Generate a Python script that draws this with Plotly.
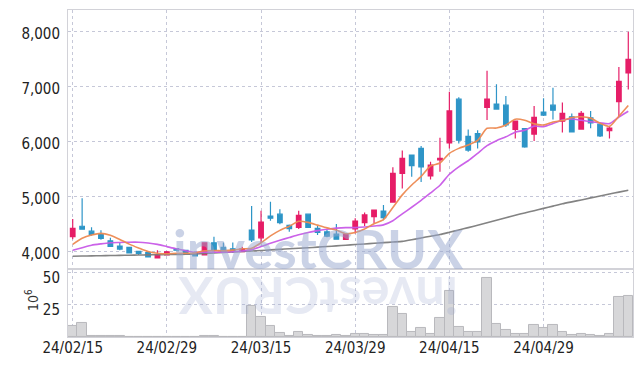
import plotly.graph_objects as go

dates = [
    '24/02/15', '24/02/16', '24/02/19', '24/02/20', '24/02/21', '24/02/22', '24/02/23', '24/02/26', '24/02/27', '24/02/28',
    '24/02/29', '24/03/04', '24/03/05', '24/03/06', '24/03/07', '24/03/08', '24/03/11', '24/03/12', '24/03/13', '24/03/14',
    '24/03/15', '24/03/18', '24/03/19', '24/03/20', '24/03/21', '24/03/22', '24/03/25', '24/03/26', '24/03/27', '24/03/28',
    '24/03/29', '24/04/01', '24/04/02', '24/04/03', '24/04/04', '24/04/05', '24/04/08', '24/04/09', '24/04/11', '24/04/12',
    '24/04/15', '24/04/16', '24/04/17', '24/04/18', '24/04/19', '24/04/22', '24/04/23', '24/04/24', '24/04/25', '24/04/26',
    '24/04/29', '24/04/30', '24/05/02', '24/05/03', '24/05/07', '24/05/08', '24/05/09', '24/05/10', '24/05/13', '24/05/14',
]

opens = [4275, 4465, 4375, 4315, 4200, 4105, 4080, 4010, 3985, 3890,
         3945, 4060, 4025, 3980, 3945, 4165, 4080, 4055, 4005, 4395,
         4255, 4650, 4685, 4480, 4445, 4685, 4425, 4365, 4320, 4225,
         4415, 4530, 4640, 4740, 4905, 5425, 5760, 5880, 5380, 5670,
         5980, 6775, 6100, 6150, 6625, 6685, 6665, 6225, 6240, 6140,
         6540, 6665, 6375, 6455, 6230, 6435, 6320, 6200, 6730, 7250]
highs = [4595, 4975, 4445, 4390, 4255, 4165, 4090, 4020, 3995, 4030,
         4015, 4070, 4035, 3990, 4175, 4275, 4170, 4170, 4090, 4835,
         4745, 4910, 4775, 4495, 4745, 4695, 4470, 4395, 4505, 4330,
         4610, 4715, 4765, 4850, 5535, 5840, 5770, 5925, 5635, 6075,
         6910, 6810, 6225, 6210, 7290, 7045, 6830, 6385, 6250, 6650,
         6790, 6980, 6715, 6515, 6560, 6560, 6330, 6275, 7360, 8000]
lows = [4230, 4405, 4290, 4220, 4090, 4030, 3975, 3940, 3900, 3880,
        3935, 4020, 3965, 3915, 3935, 4020, 3985, 3980, 3995, 4180,
        4155, 4565, 4500, 4365, 4415, 4435, 4305, 4265, 4220, 4215,
        4335, 4470, 4520, 4575, 4895, 5150, 5365, 5270, 5315, 5455,
        5880, 5970, 5820, 5880, 6395, 6580, 6270, 6060, 5890, 6015,
        6470, 6405, 6170, 6175, 6220, 6245, 6085, 6060, 6455, 6950]
closes = [4425, 4410, 4315, 4245, 4100, 4050, 3980, 3970, 3910, 3950,
          4000, 4030, 3975, 3925, 4165, 4030, 4000, 4015, 4055, 4215,
          4540, 4610, 4530, 4420, 4665, 4445, 4355, 4285, 4230, 4320,
          4560, 4670, 4760, 4620, 5425, 5700, 5565, 5545, 5575, 5700,
          6560, 6030, 5850, 6000, 6775, 6595, 6305, 6375, 5905, 6445,
          6485, 6575, 6515, 6180, 6515, 6345, 6105, 6250, 7100, 7500]

ma5 = [4135, 4245, 4305, 4335, 4300, 4225, 4140, 4070, 4005, 3975,
       3965, 3975, 3975, 3980, 4020, 4025, 4020, 4030, 4055, 4065,
       4165, 4290, 4390, 4465, 4555, 4535, 4485, 4435, 4395, 4330,
       4350, 4415, 4510, 4585, 4805, 5035, 5215, 5370, 5560, 5615,
       5790, 5880, 5940, 6025, 6245, 6250, 6305, 6410, 6390, 6325,
       6305, 6360, 6385, 6440, 6455, 6430, 6335, 6280, 6465, 6660]
ma10 = [4030, 4075, 4120, 4145, 4165, 4170, 4175, 4175, 4160, 4135,
        4095, 4055, 4020, 3990, 3995, 3995, 3995, 4000, 4015, 4040,
        4095, 4155, 4210, 4260, 4310, 4350, 4385, 4410, 4430, 4440,
        4440, 4450, 4470, 4490, 4565, 4690, 4810, 4935, 5070, 5210,
        5410, 5545, 5655, 5790, 5930, 6020, 6090, 6175, 6210, 6285,
        6275, 6330, 6395, 6415, 6390, 6365, 6345, 6330, 6450, 6555]
ma60 = [3920, 3923, 3926, 3929, 3932, 3935, 3938, 3941, 3944, 3947,
        3950, 3953, 3956, 3960, 3969, 3978, 3987, 3997, 4006, 4015,
        4025, 4035, 4045, 4055, 4065, 4075, 4085, 4097, 4108, 4120,
        4132, 4143, 4155, 4167, 4178, 4190, 4220, 4252, 4284, 4314,
        4355, 4397, 4440, 4482, 4528, 4575, 4620, 4665, 4707, 4748,
        4790, 4830, 4872, 4908, 4943, 4980, 5015, 5050, 5085, 5120]

volume = [8.7, 10.8, 0.8, 0.7, 0.7, 0.6, 0.2, 0.2, 0.2, 0.2,
          0.2, 0.2, 0.2, 0.2, 0.7, 0.7, 0.2, 0.2, 0.2, 24.2,
          15.5, 8.7, 3.1, 1.0, 4.1, 1.8, 1.0, 0.8, 1.8, 1.0,
          2.5, 2.5, 1.5, 1.5, 23.2, 18.0, 4.1, 7.0, 2.5, 14.7,
          35.8, 7.7, 3.6, 4.1, 45.7, 10.3, 5.7, 2.5, 2.5, 9.3,
          7.2, 9.3, 4.1, 1.8, 2.5, 1.8, 1.0, 2.5, 31.0, 32.0]

price_ticks = [4000, 5000, 6000, 7000, 8000]
price_tick_text = ['4,000', '5,000', '6,000', '7,000', '8,000']
vol_ticks = [25, 50]
vol_tick_text = ['25', '50']
date_ticks = ['24/02/15', '24/02/29', '24/03/15', '24/03/29', '24/04/15', '24/04/29']

UP = '#e61e68'
DOWN = '#2f95c8'
FONT_FAMILY = 'Liberation Sans Narrow, DejaVu Sans Condensed, Roboto Condensed, Roboto, sans-serif'
TICKFONT = dict(family=FONT_FAMILY, size=15, color='#222222')
GRID = dict(showgrid=True, gridcolor='#c6c8d8', griddash='dot', gridwidth=1)
FRAME = dict(showline=True, linecolor='#d2d2d8', linewidth=1, mirror=True, zeroline=False, automargin=False)

fig = go.Figure()

fig.add_trace(go.Bar(
    x=dates, y=volume, xaxis='x2', yaxis='y2',
    marker=dict(color='#d7d7d9', line=dict(color='#b9b9bd', width=1)),
    hoverinfo='skip'))

fig.add_trace(go.Candlestick(
    x=dates, open=opens, high=highs, low=lows, close=closes,
    xaxis='x', yaxis='y', whiskerwidth=0,
    increasing=dict(line=dict(color=UP, width=1.2), fillcolor=UP),
    decreasing=dict(line=dict(color=DOWN, width=1.2), fillcolor=DOWN),
    hoverinfo='skip'))

for series, color in ((ma60, '#7d7d7d'), (ma10, '#c95ae8'), (ma5, '#ee8a52')):
    fig.add_trace(go.Scatter(
        x=dates, y=series, mode='lines', xaxis='x', yaxis='y',
        line=dict(color=color, width=1.6, shape='spline', smoothing=0.6),
        opacity=0.95, hoverinfo='skip'))

plot_l, plot_w, plot_b, plot_h = 68, 565, 337, 327
wm_x = ((175 + 462) / 2 - plot_l) / plot_w

annotations = [
    dict(text='investCRUX', x=wm_x, y=(plot_b - 248) / plot_h, xref='paper', yref='paper',
         xanchor='center', yanchor='middle', showarrow=False,
         font=dict(family='Lato', size=54, color='rgba(150,165,205,0.5)', weight='bold')),
    dict(text='investCRUX', x=wm_x, y=(plot_b - 297) / plot_h, xref='paper', yref='paper',
         xanchor='center', yanchor='middle', showarrow=False, textangle=180,
         font=dict(family='Lato', size=52, color='rgba(150,165,205,0.24)', weight='bold')),
    dict(text='10<sup>6</sup>', x=(32 - plot_l) / plot_w, y=(plot_b - 300) / plot_h,
         xref='paper', yref='paper', xanchor='center', yanchor='middle', showarrow=False,
         textangle=-90, font=dict(family=FONT_FAMILY, size=14, color='#333333')),
]

fig.update_layout(
    width=642, height=366,
    margin=dict(l=68, r=9, t=10, b=29),
    paper_bgcolor='white', plot_bgcolor='white',
    showlegend=False, bargap=0,
    xaxis=dict(type='category', range=[-0.5, 59.5], tickvals=date_ticks, showticklabels=False,
               anchor='y', rangeslider=dict(visible=False), **GRID, **FRAME),
    xaxis2=dict(type='category', matches='x', anchor='y2', tickvals=date_ticks, ticktext=date_ticks,
                tickfont=TICKFONT, ticks='', ticklabelstandoff=-3, **GRID, **FRAME),
    yaxis=dict(domain=[0.21, 1], range=[3700, 8395], tickvals=price_ticks, ticktext=price_tick_text,
               tickfont=TICKFONT, ticks='', ticklabelstandoff=4, ticklabelshift=2, **GRID, **FRAME),
    yaxis2=dict(domain=[0, 0.205], range=[0, 52], tickvals=vol_ticks, ticktext=vol_tick_text,
                tickfont=TICKFONT, ticks='', ticklabelstandoff=4, ticklabelshift=5, **GRID, **FRAME),
    annotations=annotations,
)

fig.write_html('out.html', config={'displayModeBar': False},
               post_script="document.body.style.margin='0';")
